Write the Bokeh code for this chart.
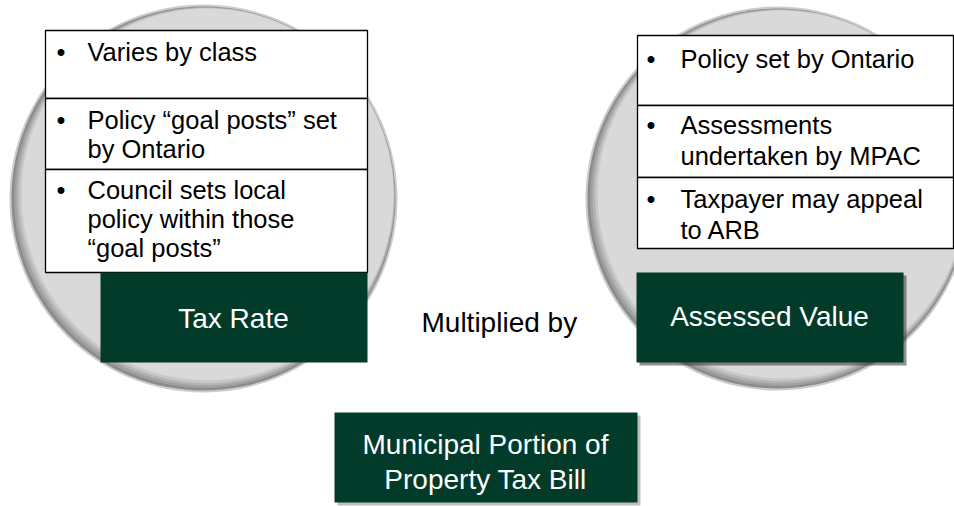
from bokeh.plotting import figure
from bokeh.models import Range1d
from bokeh.core.properties import value
from bokeh.embed import file_html
from bokeh.resources import INLINE

# ---- content ----
left_items = [["Varies by class"],
              ["Policy \u201cgoal posts\u201d set", "by Ontario"],
              ["Council sets local", "policy within those", "\u201cgoal posts\u201d"]]
right_items = [["Policy set by Ontario"],
               ["Assessments", "undertaken by MPAC"],
               ["Taxpayer may appeal", "to ARB"]]
left_label = "Tax Rate"
right_label = "Assessed Value"
middle_label = "Multiplied by"
result_lines = ["Municipal Portion of", "Property Tax Bill"]

# ---- layout (picture pixel coordinates) ----
W, H = 954, 506
FONT = value("Liberation Sans")
GREEN = "#023b29"
BULLET_SIZE = "25.5px"
LABEL_SIZE = "28px"
SHIFT = -9  # baseline correction

p = figure(width=W, height=H, output_backend="svg", toolbar_location=None,
           x_range=Range1d(0, W), y_range=Range1d(H, 0),
           x_axis_type=None, y_axis_type=None, min_border=0,
           background_fill_color="white", border_fill_color="white")
p.grid.visible = False
p.outline_line_color = None

def disc(cx, cy, r):
    layers = [("#cccccc", 0, 0, 0), ("#8c8c8c", 0, 0, 2), ("#a0a0a0", 1, -1, 3.5),
              ("#b4b4b4", 2, -2, 5), ("#c8c8c8", 3, -3, 6.5), ("#d9d9d9", 4, -4, 8)]
    for col, dx, dy, dr in layers:
        p.circle(x=[cx + dx], y=[cy + dy], radius=r - dr, fill_color=col, line_color=None)

disc(203, 198, 194)
disc(777, 198, 192)

def table(x0, x1, tops, bottom, items, bullet_x, text_x, first_offsets, lh):
    edges = tops + [bottom]
    p.quad(left=[x0] * len(tops), right=[x1] * len(tops), top=tops, bottom=edges[1:],
           fill_color="white", line_color="black", line_width=1.3)
    bx, by, tx, ty, tt = [], [], [], [], []
    for i, lines in enumerate(items):
        b0 = tops[i] + first_offsets[i] + SHIFT
        bx.append(bullet_x); by.append(b0)
        for j, ln in enumerate(lines):
            tx.append(text_x); ty.append(b0 + j * lh); tt.append(ln)
    p.text(x=bx, y=by, text=["\u2022"] * len(bx), text_font=FONT, text_font_size=BULLET_SIZE,
           text_align="left", text_baseline="alphabetic", text_color="black")
    p.text(x=tx, y=ty, text=tt, text_font=FONT, text_font_size=BULLET_SIZE,
           text_align="left", text_baseline="alphabetic", text_color="black")

table(45, 367, [30, 98, 169], 272, left_items, 56, 87, [30, 30, 29], 29)
table(637, 953, [35, 105, 177], 248, right_items, 646, 680, [32, 28, 30], 31)

def green_box(x0, x1, y0, y1, lines, cx, baselines, shadow=None):
    if shadow:
        p.quad(left=[x0 + 3], right=[x1 + 3], top=[y0 + 3], bottom=[y1 + 3],
               fill_color=shadow, fill_alpha=0.55, line_color=None)
    p.quad(left=[x0], right=[x1], top=[y0], bottom=[y1], fill_color=GREEN, line_color=None)
    p.text(x=[cx] * len(lines), y=[b + SHIFT for b in baselines], text=lines, text_font=FONT,
           text_font_size=LABEL_SIZE, text_align="center", text_baseline="alphabetic",
           text_color="white")

green_box(100, 367, 272, 362, [left_label], 233, [327])
green_box(636, 903, 272, 362, [right_label], 769, [325], shadow="#333333")
green_box(334, 637, 412, 502, result_lines, 485, [453, 488], shadow="#8a8a8a")

p.text(x=[421], y=[331 + SHIFT], text=[middle_label], text_font=FONT, text_font_size=LABEL_SIZE,
       text_align="left", text_baseline="alphabetic", text_color="black")

open("out.html", "w").write(file_html(p, INLINE))
